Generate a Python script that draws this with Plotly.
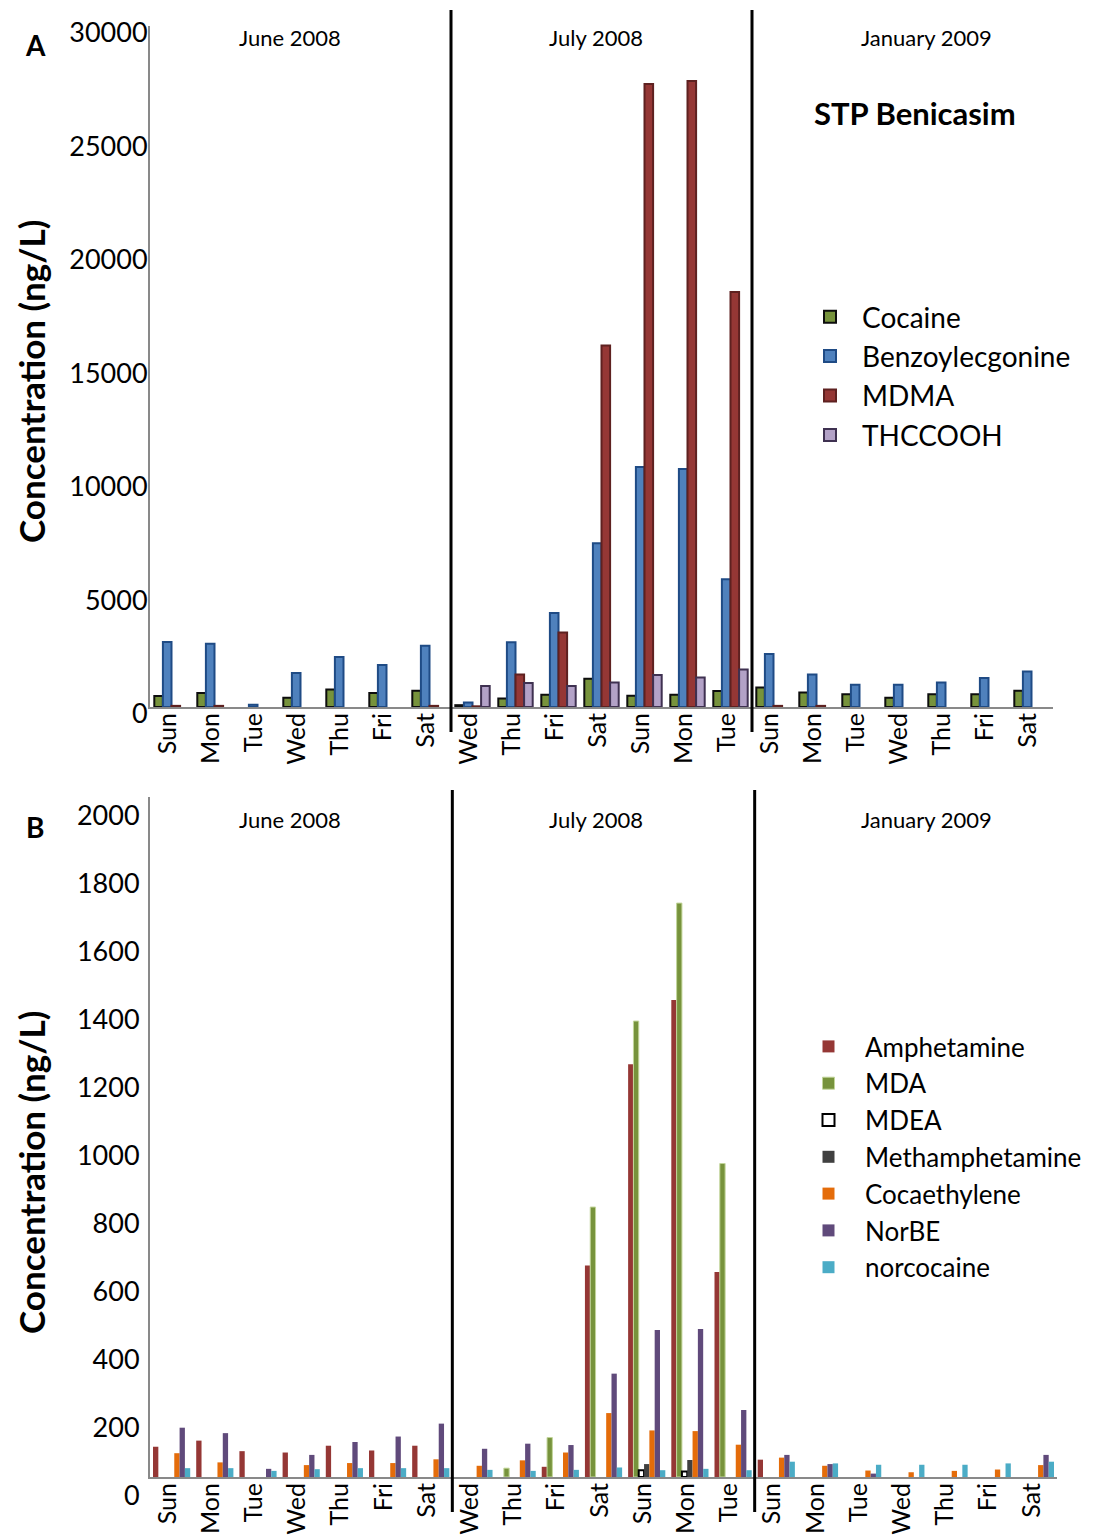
import plotly.graph_objects as go

# page body adds an 8px margin; work in reference pixel coordinates
OFF = 8
W, H = 1110 - OFF, 1535 - OFF

days = ["Sun", "Mon", "Tue", "Wed", "Thu", "Fri", "Sat",
        "Wed", "Thu", "Fri", "Sat", "Sun", "Mon", "Tue",
        "Sun", "Mon", "Tue", "Wed", "Thu", "Fri", "Sat"]
periods = ["June 2008", "July 2008", "January 2009"]

# Panel A (ng/L)
cocaine = [485, 620, None, 410, 770, 620, 720,
           80, 370, 545, 1250, 500, 545, 705,
           855, 635, 560, 410, 560, 560, 720]
benzoylecgonine = [2860, 2790, 100, 1500, 2200, 1850, 2700,
                   200, 2850, 4140, 7210, 10570, 10480, 5625,
                   2335, 1430, 985, 985, 1075, 1280, 1560]
mdma = [50, 50, None, None, None, None, 50,
        30, 1430, 3280, 15930, 27440, 27580, 18280,
        50, 50, None, None, None, None, None]
thccooh = [None, None, None, None, None, None, None,
           925, 1060, 925, 1075, 1410, 1295, 1650,
           None, None, None, None, None, None, None]

# Panel B (ng/L)
amphetamine = [89, 107, 76, 72, 92, 78, 92,
               None, None, 30, 622, 1214, 1403, 603,
               51, None, None, None, None, None, None]
mda = [None, None, None, None, None, None, None,
       None, 26, 116, 794, 1341, 1688, 922,
       None, None, None, None, None, None, None]
mdea = [None, None, None, None, None, None, None,
        None, None, None, None, 20, 16, None,
        None, None, None, None, None, None, None]
methamphetamine = [None, None, None, None, None, None, None,
                   None, None, None, None, 38, 50, None,
                   None, None, None, None, None, None, None]
cocaethylene = [70, 43, None, 35, 41, 41, 52,
                33, 49, 72, 188, 137, 135, 95,
                57, 33, 19, 14, 18, 22, 35]
norbe = [145, 129, 24, 65, 103, 119, 157,
         83, 98, 94, 304, 432, 435, 197,
         65, 38, 10, None, None, None, 65]
norcocaine = [26, 26, 18, 23, 26, 26, 26,
              21, 18, 21, 28, 20, 24, 20,
              45, 40, 36, 36, 36, 40, 45]

yticks_a = [0, 5000, 10000, 15000, 20000, 25000, 30000]
yticks_b = [0, 200, 400, 600, 800, 1000, 1200, 1400, 1600, 1800, 2000]

xs = list(range(len(days)))
FONT = "Lato, Carlito, Calibri, sans-serif"

fig = go.Figure()

# Panel A traces
a_series = [
    ("Cocaine", cocaine, "#77933C", "#0d0d0d"),
    ("Benzoylecgonine", benzoylecgonine, "#4F81BD", "#1F4B85"),
    ("MDMA", mdma, "#953735", "#5E2120"),
    ("THCCOOH", thccooh, "#B3A2C7", "#3F3151"),
]
wa = 0.2
for k, (name, vals, col, lc) in enumerate(a_series):
    fig.add_trace(go.Bar(
        x=xs, y=vals, name=name, xaxis="x", yaxis="y",
        width=wa, offset=-0.4 + k * wa,
        marker=dict(color=col, line=dict(color=lc, width=2)),
        legend="legend", legendgroup=name,
    ))

# Panel B traces
b_series = [
    ("Amphetamine", amphetamine, "#953735", "#953735", 0),
    ("MDA", mda, "#77933C", "#C3D69B", 1),
    ("MDEA", mdea, "#FFFFFF", "#000000", 2),
    ("Methamphetamine", methamphetamine, "#404040", "#404040", 0),
    ("Cocaethylene", cocaethylene, "#E46C0A", "#E46C0A", 0),
    ("NorBE", norbe, "#604A7B", "#604A7B", 0),
    ("norcocaine", norcocaine, "#4BACC6", "#4BACC6", 0),
]
wb = 0.123
for k, (name, vals, col, lc, lw) in enumerate(b_series):
    fig.add_trace(go.Bar(
        x=xs, y=vals, name=name, xaxis="x2", yaxis="y2",
        width=wb, offset=-0.43 + k * wb,
        marker=dict(color=col, line=dict(color=lc, width=lw)),
        legend="legend2", legendgroup=name,
    ))

def py(p):
    return 1 - (p - OFF) / H

def px(p):
    return (p - OFF) / W

line_common = dict(showgrid=False, zeroline=False, showline=True,
                   linecolor="#898989", linewidth=2, ticks="", automargin=False)
ytick_font = dict(family=FONT, size=27, color="black")
xtick_font = dict(family=FONT, size=25, color="black")

fig.update_layout(
    template="none",
    width=W, height=H,
    margin=dict(l=0, r=0, t=0, b=0, autoexpand=False),
    paper_bgcolor="white", plot_bgcolor="white",
    barmode="overlay",
    showlegend=True,
    xaxis=dict(domain=[px(150), px(1053)], range=[-0.5, 20.5],
               tickvals=xs, ticktext=days, tickangle=-90,
               ticklabelstandoff=-6, ticklabelshift=-4,
               anchor="y", tickfont=xtick_font, **line_common),
    yaxis=dict(domain=[py(707), py(26)], range=[0, 30000],
               tickvals=yticks_a, ticktext=[str(v) for v in yticks_a],
               ticklabelshift=7, ticklabelstandoff=-5,
               anchor="x", tickfont=ytick_font, **line_common),
    xaxis2=dict(domain=[px(150), px(1057)], range=[-0.5, 20.5],
                tickvals=xs, ticktext=days, tickangle=-90,
                ticklabelstandoff=-6, ticklabelshift=-4,
                anchor="y2", tickfont=xtick_font, **line_common),
    yaxis2=dict(domain=[py(1477), py(797)], range=[0, 2000],
                tickvals=yticks_b, ticktext=[str(v) for v in yticks_b],
                ticklabelshift=19, ticklabelstandoff=3,
                anchor="x2", tickfont=ytick_font, **line_common),
    legend=dict(x=px(798), y=py(292), xanchor="left", yanchor="top",
                font=dict(family=FONT, size=28, color="black"),
                bgcolor="rgba(0,0,0,0)", traceorder="grouped",
                tracegroupgap=0, itemwidth=54),
    legend2=dict(x=px(792), y=py(1023), xanchor="left", yanchor="top",
                 font=dict(family=FONT, size=26, color="black"),
                 bgcolor="rgba(0,0,0,0)", traceorder="grouped",
                 tracegroupgap=0, itemwidth=63),
)

# separators
shapes = []
for xv in [6.5, 13.5]:
    shapes.append(dict(type="line", xref="x", yref="paper", x0=xv, x1=xv,
                       y0=py(732), y1=py(10), line=dict(color="black", width=3)))
    shapes.append(dict(type="line", xref="x2", yref="paper", x0=xv, x1=xv,
                       y0=py(1512), y1=py(790), line=dict(color="black", width=3)))
fig.update_layout(shapes=shapes)

def note(text, x, y, size, angle=0):
    return dict(text=text, x=px(x), y=py(y), xref="paper", yref="paper",
                xanchor="center", yanchor="middle", showarrow=False,
                textangle=angle, font=dict(family=FONT, size=size, color="black"))

ann = []
for lbl, xp in zip(periods, [290, 596, 926]):
    ann.append(note(lbl, xp, 38, 22))
    ann.append(note(lbl, xp, 820, 22))
ann.append(note("<b>STP Benicasim</b>", 915, 113, 31))
ann.append(note("<b>A</b>", 35, 45, 28))
ann.append(note("<b>B</b>", 35, 827, 28))
for yc in [382, 1173]:
    ann.append(note("<b>Concentration (ng/L)</b>", 31, yc, 35, -90))
fig.update_layout(annotations=ann)

fig.write_html("out.html")
